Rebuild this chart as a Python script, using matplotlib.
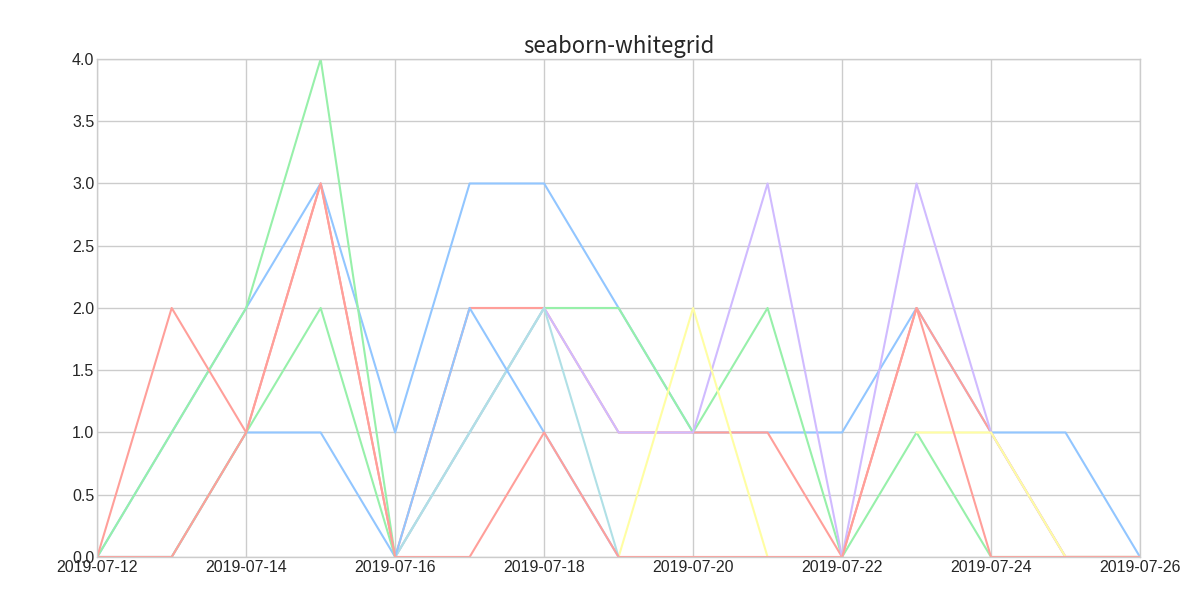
import numpy as np
import pandas as pd
import matplotlib
matplotlib.use("Agg")
import matplotlib.pyplot as plt
import matplotlib.dates as mdates
from matplotlib.ticker import FormatStrFormatter

# 日付 (2019-07-12 ～ 2019-07-26)
dates = pd.date_range("2019-07-12", "2019-07-26", freq="D")

nan = np.nan
# 各系列の値（図から読み取り、データの無い日は nan）
blue_1   = [0, 1, 2, 3, 1, 3, 3, 2, 1, 1, 1, 2, 1, 1, 0]
green_1  = [0, 1, 2, 4, 0, 1, 2, 2, 1, 2, 0, 1, 0, 0, 0]
red_1    = [0, 2, 1, 3, 0, 2, 2, 1, 1, 1, 0, 2, 1, 0, 0]
purple_1 = [nan, nan, nan, nan, 0, 1, 2, 1, 1, 3, 0, 3, 1, 0, 0]
yellow_1 = [nan, nan, nan, nan, nan, nan, nan, 0, 2, 0, nan, 1, 1, 0, 0]
cyan_1   = [nan, nan, nan, nan, 0, 1, 2, 0, nan, nan, nan, nan, nan, nan, nan]
blue_2   = [0, 0, 1, 1, 0, 2, 1, 0, nan, nan, nan, nan, nan, nan, nan]
green_2  = [0, 0, 1, 2, 0, nan, nan, nan, nan, nan, nan, nan, nan, nan, nan]
red_2    = [0, 0, 1, 3, 0, 0, 1, 0, 0, 0, 0, 2, 0, 0, 0]

series = [blue_1, green_1, red_1, purple_1, yellow_1, cyan_1,
          blue_2, green_2, red_2]

# seaborn-pastel の色
pastel = ['#92C6FF', '#97F0AA', '#FF9F9A', '#D0BBFF', '#FFFEA3', '#B0E0E6']

plt.style.use('seaborn-v0_8-whitegrid')
plt.rcParams['axes.prop_cycle'] = plt.cycler(color=pastel)
plt.rcParams['font.family'] = ['Liberation Sans', 'DejaVu Sans']

fig = plt.figure(figsize=(12, 6), dpi=100)
ax = fig.add_axes([0.081, 0.0717, 0.869, 0.83])

for s in series:
    ax.plot(dates, s, linewidth=1.5)

ax.set_xlim(dates[0], dates[-1])
ax.set_ylim(0, 4)
ax.xaxis.set_major_locator(mdates.DayLocator(interval=2))
ax.xaxis.set_major_formatter(mdates.DateFormatter('%Y-%m-%d'))
ax.yaxis.set_major_formatter(FormatStrFormatter('%.1f'))
ax.tick_params(labelsize=11.5, colors='#262626', pad=2)
ax.grid(True, color='#cccccc', linewidth=1)
for sp in ax.spines.values():
    sp.set_color('#cccccc')

ax.set_title('seaborn-whitegrid', fontsize=16, color='#262626',
             family=['Noto Sans CJK JP', 'DejaVu Sans'], pad=4)

fig.savefig('out.png', dpi=100)
